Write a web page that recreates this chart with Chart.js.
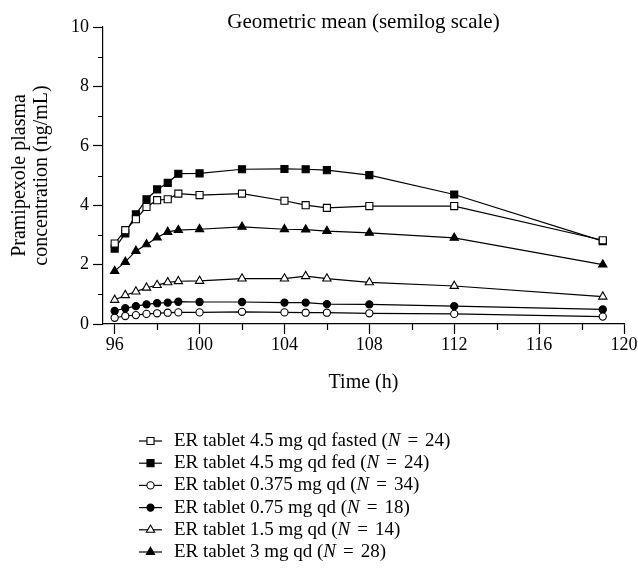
<!DOCTYPE html>
<html><head><meta charset="utf-8">
<style>html,body{margin:0;padding:0;background:#fff}#wrap{width:638px;height:573px}</style>
<script src="https://cdn.jsdelivr.net/npm/chart.js@4/dist/chart.umd.min.js"></script>
</head><body><div id="wrap"><canvas id="c" width="638" height="573"></canvas></div>
<script>
// ---- data ----
const times = [96, 96.5, 97, 97.5, 98, 98.5, 99, 100, 102, 104, 105, 106, 108, 112, 119];
const fasted45 = [2.71, 3.16, 3.53, 3.94, 4.17, 4.20, 4.39, 4.34, 4.39, 4.15, 4.00, 3.91, 3.97, 3.97, 2.82];
const fed45    = [2.54, 3.05, 3.69, 4.20, 4.53, 4.75, 5.06, 5.07, 5.21, 5.22, 5.21, 5.18, 5.01, 4.36, 2.79];
const dose0375 = [0.21, 0.27, 0.30, 0.34, 0.36, 0.38, 0.39, 0.39, 0.41, 0.39, 0.38, 0.38, 0.36, 0.34, 0.25];
const dose075  = [0.44, 0.53, 0.60, 0.66, 0.70, 0.72, 0.75, 0.74, 0.74, 0.72, 0.72, 0.67, 0.66, 0.60, 0.49];
const dose15   = [0.81, 0.97, 1.09, 1.22, 1.31, 1.40, 1.44, 1.45, 1.53, 1.53, 1.61, 1.53, 1.40, 1.28, 0.92];
const dose3    = [1.78, 2.09, 2.46, 2.68, 2.91, 3.10, 3.16, 3.19, 3.27, 3.19, 3.18, 3.13, 3.07, 2.90, 2.00];
const seriesNames = ['ER tablet 4.5 mg qd fasted', 'ER tablet 4.5 mg qd fed', 'ER tablet 0.375 mg qd',
                     'ER tablet 0.75 mg qd', 'ER tablet 1.5 mg qd', 'ER tablet 3 mg qd'];
const seriesN = [24, 24, 34, 18, 14, 28];
const xTicks = [96, 98, 100, 102, 104, 106, 108, 110, 112, 114, 116, 118, 120];
const yTicks = [0, 1, 2, 3, 4, 5, 6, 7, 8, 9, 10];
const chartTitle = 'Geometric mean (semilog scale)';
const xTitle = 'Time (h)';
const yTitle = ['Pramipexole plasma', 'concentration (ng/mL)'];

// ---- styles ----
const FONT = '"Liberation Serif", "Times New Roman", serif';
const TEXT_SIZE = 19;
const TITLE_SIZE = 20;
const HEAD_SIZE = 21;
const TICK_SIZE = 18;
const seriesValues = [fasted45, fed45, dose0375, dose075, dose15, dose3];
const shapes = ['rect', 'rect', 'circle', 'circle', 'triangle', 'triangle'];
const filled = [false, true, false, true, false, true];
const radii = {rect: 5, circle: 3.6, triangle: 4.8};

const datasets = seriesValues.map((vals, i) => ({
  label: seriesNames[i],
  data: times.map((t, k) => ({x: t, y: vals[k]})),
  borderColor: '#000',
  borderWidth: 1.2,
  backgroundColor: filled[i] ? '#000' : '#fff',
  pointStyle: shapes[i],
  pointRadius: radii[shapes[i]],
  pointBorderColor: '#000',
  pointBackgroundColor: filled[i] ? '#000' : '#fff',
  pointBorderWidth: 1.1,
  tension: 0,
  fill: false
}));

function drawMarker(ctx, shape, isFilled, x, y) {
  const r = radii[shape];
  ctx.save();
  ctx.beginPath();
  if (shape === 'rect') {
    const s = Math.SQRT1_2 * r;
    ctx.rect(x - s, y - s, 2 * s, 2 * s);
  } else if (shape === 'circle') {
    ctx.arc(x, y, r, 0, Math.PI * 2);
  } else {
    ctx.moveTo(x, y - r);
    ctx.lineTo(x + r * Math.sin(2 * Math.PI / 3), y - r * Math.cos(2 * Math.PI / 3));
    ctx.lineTo(x + r * Math.sin(4 * Math.PI / 3), y - r * Math.cos(4 * Math.PI / 3));
    ctx.closePath();
  }
  ctx.fillStyle = isFilled ? '#000' : '#fff';
  ctx.fill();
  ctx.lineWidth = 1.1;
  ctx.strokeStyle = '#000';
  ctx.stroke();
  ctx.restore();
}

const decor = {
  id: 'decor',
  afterDraw(chart) {
    const ctx = chart.ctx;
    const ca = chart.chartArea;
    const xs = chart.scales.x, ys = chart.scales.y;
    ctx.save();
    // minor ticks
    ctx.strokeStyle = '#000';
    ctx.lineWidth = 1.2;
    ctx.beginPath();
    xTicks.forEach(v => {
      if (v % 4 !== 0) {
        const px = Math.round(xs.getPixelForValue(v)) + 0.5;
        ctx.moveTo(px, ca.bottom); ctx.lineTo(px, ca.bottom + 6);
      }
    });
    yTicks.forEach(v => {
      if (v % 2 !== 0) {
        const py = Math.round(ys.getPixelForValue(v)) + 0.5;
        ctx.moveTo(ca.left, py); ctx.lineTo(ca.left - 5, py);
      }
    });
    ctx.stroke();
    // title
    ctx.fillStyle = '#000';
    ctx.font = HEAD_SIZE + 'px ' + FONT;
    ctx.textAlign = 'center';
    ctx.textBaseline = 'middle';
    ctx.fillText(chartTitle, (ca.left + ca.right) / 2, 22);
    // legend
    const x0 = 139, x1 = 162, tx = 174, y0 = 441, dy = 22.2;
    const f = TEXT_SIZE + 'px ' + FONT, fi = 'italic ' + TEXT_SIZE + 'px ' + FONT;
    ctx.textAlign = 'left';
    seriesNames.forEach((name, i) => {
      const y = y0 + dy * i;
      ctx.beginPath();
      ctx.lineWidth = 1.2;
      ctx.moveTo(x0, y); ctx.lineTo(x1, y);
      ctx.stroke();
      drawMarker(ctx, shapes[i], filled[i], (x0 + x1) / 2, y);
      let x = tx;
      ctx.font = f;
      const p1 = name + ' (';
      ctx.fillText(p1, x, y); x += ctx.measureText(p1).width;
      ctx.font = fi;
      ctx.fillText('N', x, y); x += ctx.measureText('N').width + 7;
      ctx.font = f;
      ctx.fillText('=', x, y); x += ctx.measureText('=').width + 7;
      ctx.fillText(seriesN[i] + ')', x, y);
    });
    ctx.restore();
  }
};

new Chart(document.getElementById('c'), {
  type: 'line',
  data: {datasets},
  plugins: [decor],
  options: {
    responsive: false,
    animation: false,
    devicePixelRatio: 1,
    layout: {padding: {left: 0, top: 27, right: 14, bottom: 178}},
    plugins: {legend: {display: false}, tooltip: {enabled: false}, title: {display: false}},
    scales: {
      x: {
        type: 'linear',
        min: 95.45, max: 120,
        afterBuildTicks: s => { s.ticks = xTicks.map(v => ({value: v})); },
        afterFit: s => { s.height = 71; },
        ticks: {
          color: '#000', font: {family: FONT, size: TICK_SIZE}, padding: 0, maxRotation: 0, autoSkip: false,
          callback: v => (v % 4 === 0 ? String(v) : '')
        },
        grid: {
          drawOnChartArea: false, drawTicks: true, tickLength: 10, tickWidth: 1.2,
          tickColor: c => (c.tick && c.tick.value % 4 === 0 ? '#000' : 'rgba(0,0,0,0)')
        },
        border: {display: true, color: '#000', width: 1.2},
        title: {display: true, text: xTitle, color: '#000', font: {family: FONT, size: TITLE_SIZE, lineHeight: 1.2}, padding: {top: 0, bottom: 0}}
      },
      y: {
        type: 'linear',
        min: 0, max: 10,
        afterBuildTicks: s => { s.ticks = yTicks.map(v => ({value: v})); },
        afterFit: s => { s.width = 103; },
        ticks: {
          color: '#000', font: {family: FONT, size: TICK_SIZE}, padding: 4,
          callback: v => (v % 2 === 0 ? String(v) : '')
        },
        grid: {
          drawOnChartArea: false, drawTicks: true, tickLength: 10, tickWidth: 1.2,
          tickColor: c => (c.tick && c.tick.value % 2 === 0 ? '#000' : 'rgba(0,0,0,0)')
        },
        border: {display: true, color: '#000', width: 1.2},
        title: {display: true, text: yTitle, color: '#000', font: {family: FONT, size: TITLE_SIZE, lineHeight: 1.1}, padding: {top: 9, bottom: 0}}
      }
    }
  }
});
</script></body></html>
